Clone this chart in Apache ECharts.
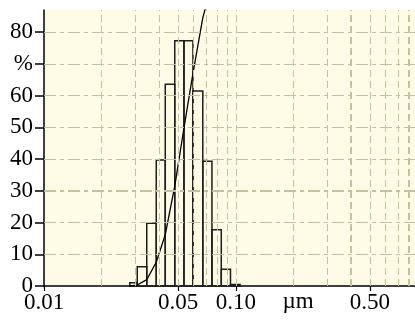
<!DOCTYPE html>
<html>
<head>
<meta charset="utf-8">
<script src="https://cdn.jsdelivr.net/npm/echarts@6/dist/echarts.min.js"></script>
<style>
html,body{margin:0;padding:0;background:#fff;}
#c{width:415px;height:322px;}
</style>
</head>
<body>
<div id="c"></div>
<script>
// bin edges (µm) of the histogram
const binEdges = [0.0280, 0.03064, 0.03434, 0.03849, 0.04288, 0.04806, 0.05368, 0.05979, 0.06729, 0.07511, 0.08402, 0.09385, 0.1053];
// bar heights (%)
const binValues = [1.0, 6.1, 19.8, 39.7, 63.6, 77.3, 77.3, 61.5, 39.3, 17.7, 5.3, 0.5];
// cumulative curve (%) at each bin edge
const cumValues = [0, 0.3, 2.0, 7.5, 16.2, 31.5, 49.8, 67.0, 84.5, 95.3, 99.0, 99.8, 100];
// axis ticks / labels
const xTickValues = [0.01, 0.05, 0.1, 0.5];
const yTickValues = [0, 10, 20, 30, 40, 50, 60, 70, 80];
const xGridValues = [0.02, 0.03, 0.04, 0.05, 0.06, 0.07, 0.08, 0.09, 0.1, 0.2, 0.3, 0.4, 0.5, 0.6, 0.7, 0.8];
const yGridValues = [10, 20, 30, 40, 50, 60, 70, 80];
const xUnit = 'µm';
const yUnit = '%';

const FONT = 'Liberation Serif';
const FSIZE = 23;
const gridColor = '#c4c1a0';
const thickX = [0.4, 0.8];
const thickY = [30];

const bars = binValues.map((v, i) => [binEdges[i], binEdges[i + 1], v]);
const cum = binEdges.map((e, i) => [e, cumValues[i]]);

const markData = [];
xGridValues.forEach(v => markData.push({xAxis: v, lineStyle: {color: gridColor, width: thickX.includes(v) ? 2 : 1, type: [7, 4]}}));
yGridValues.forEach(v => markData.push({yAxis: v, lineStyle: {color: gridColor, width: thickY.includes(v) ? 2 : 1, type: [12, 4, 4, 4]}}));

const chart = echarts.init(document.getElementById('c'), null, {renderer: 'canvas'});
chart.setOption({
  animation: false,
  backgroundColor: '#ffffff',
  grid: {left: 44, right: 0, top: 10, bottom: 36, show: true, backgroundColor: '#fdfbe6', borderWidth: 0},
  xAxis: {
    type: 'log', logBase: 10, min: 0.01, max: 0.86,
    axisLine: {show: true, onZero: false, lineStyle: {color: '#000', width: 1.5}},
    axisTick: {show: true, customValues: xTickValues, length: 5, inside: false, lineStyle: {color: '#000', width: 1.2}},
    axisLabel: {show: true, customValues: xTickValues, margin: 5, color: '#000', fontFamily: FONT, fontSize: FSIZE,
      formatter: v => Number(v).toFixed(2)},
    splitLine: {show: false},
    minorTick: {show: false}
  },
  yAxis: {
    type: 'value', min: 0, max: 87,
    axisLine: {show: true, lineStyle: {color: '#000', width: 1.5}},
    axisTick: {show: true, customValues: yTickValues, length: 9, inside: false, lineStyle: {color: '#000', width: 1.5}},
    axisLabel: {show: true, customValues: yTickValues, margin: 11, color: '#000', fontFamily: FONT, fontSize: FSIZE,
      formatter: v => (v === 70 ? yUnit : String(v))},
    splitLine: {show: false}
  },
  graphic: [{
    type: 'text', x: 298, y: 302, silent: true,
    style: {text: xUnit, fill: '#000', fontFamily: FONT, fontSize: FSIZE, align: 'center', verticalAlign: 'middle'}
  }],
  series: [
    {
      type: 'line', data: [], silent: true, symbol: 'none', z: 1,
      markLine: {silent: true, symbol: ['none', 'none'], label: {show: false}, animation: false, data: markData}
    },
    {
      type: 'custom', data: bars, z: 3, silent: true,
      encode: {x: [0, 1], y: 2},
      renderItem: (params, api) => {
        const p0 = api.coord([api.value(0), 0]);
        const p1 = api.coord([api.value(1), api.value(2)]);
        return {
          type: 'rect',
          shape: {x: p0[0], y: p1[1], width: p1[0] - p0[0], height: p0[1] - p1[1]},
          style: {fill: 'none', stroke: '#1e1e1e', lineWidth: 1.5}
        };
      }
    },
    {
      type: 'line', data: cum, symbol: 'none', clip: true, z: 4, silent: true,
      lineStyle: {color: '#000', width: 1.3}
    }
  ]
});
</script>
</body>
</html>
